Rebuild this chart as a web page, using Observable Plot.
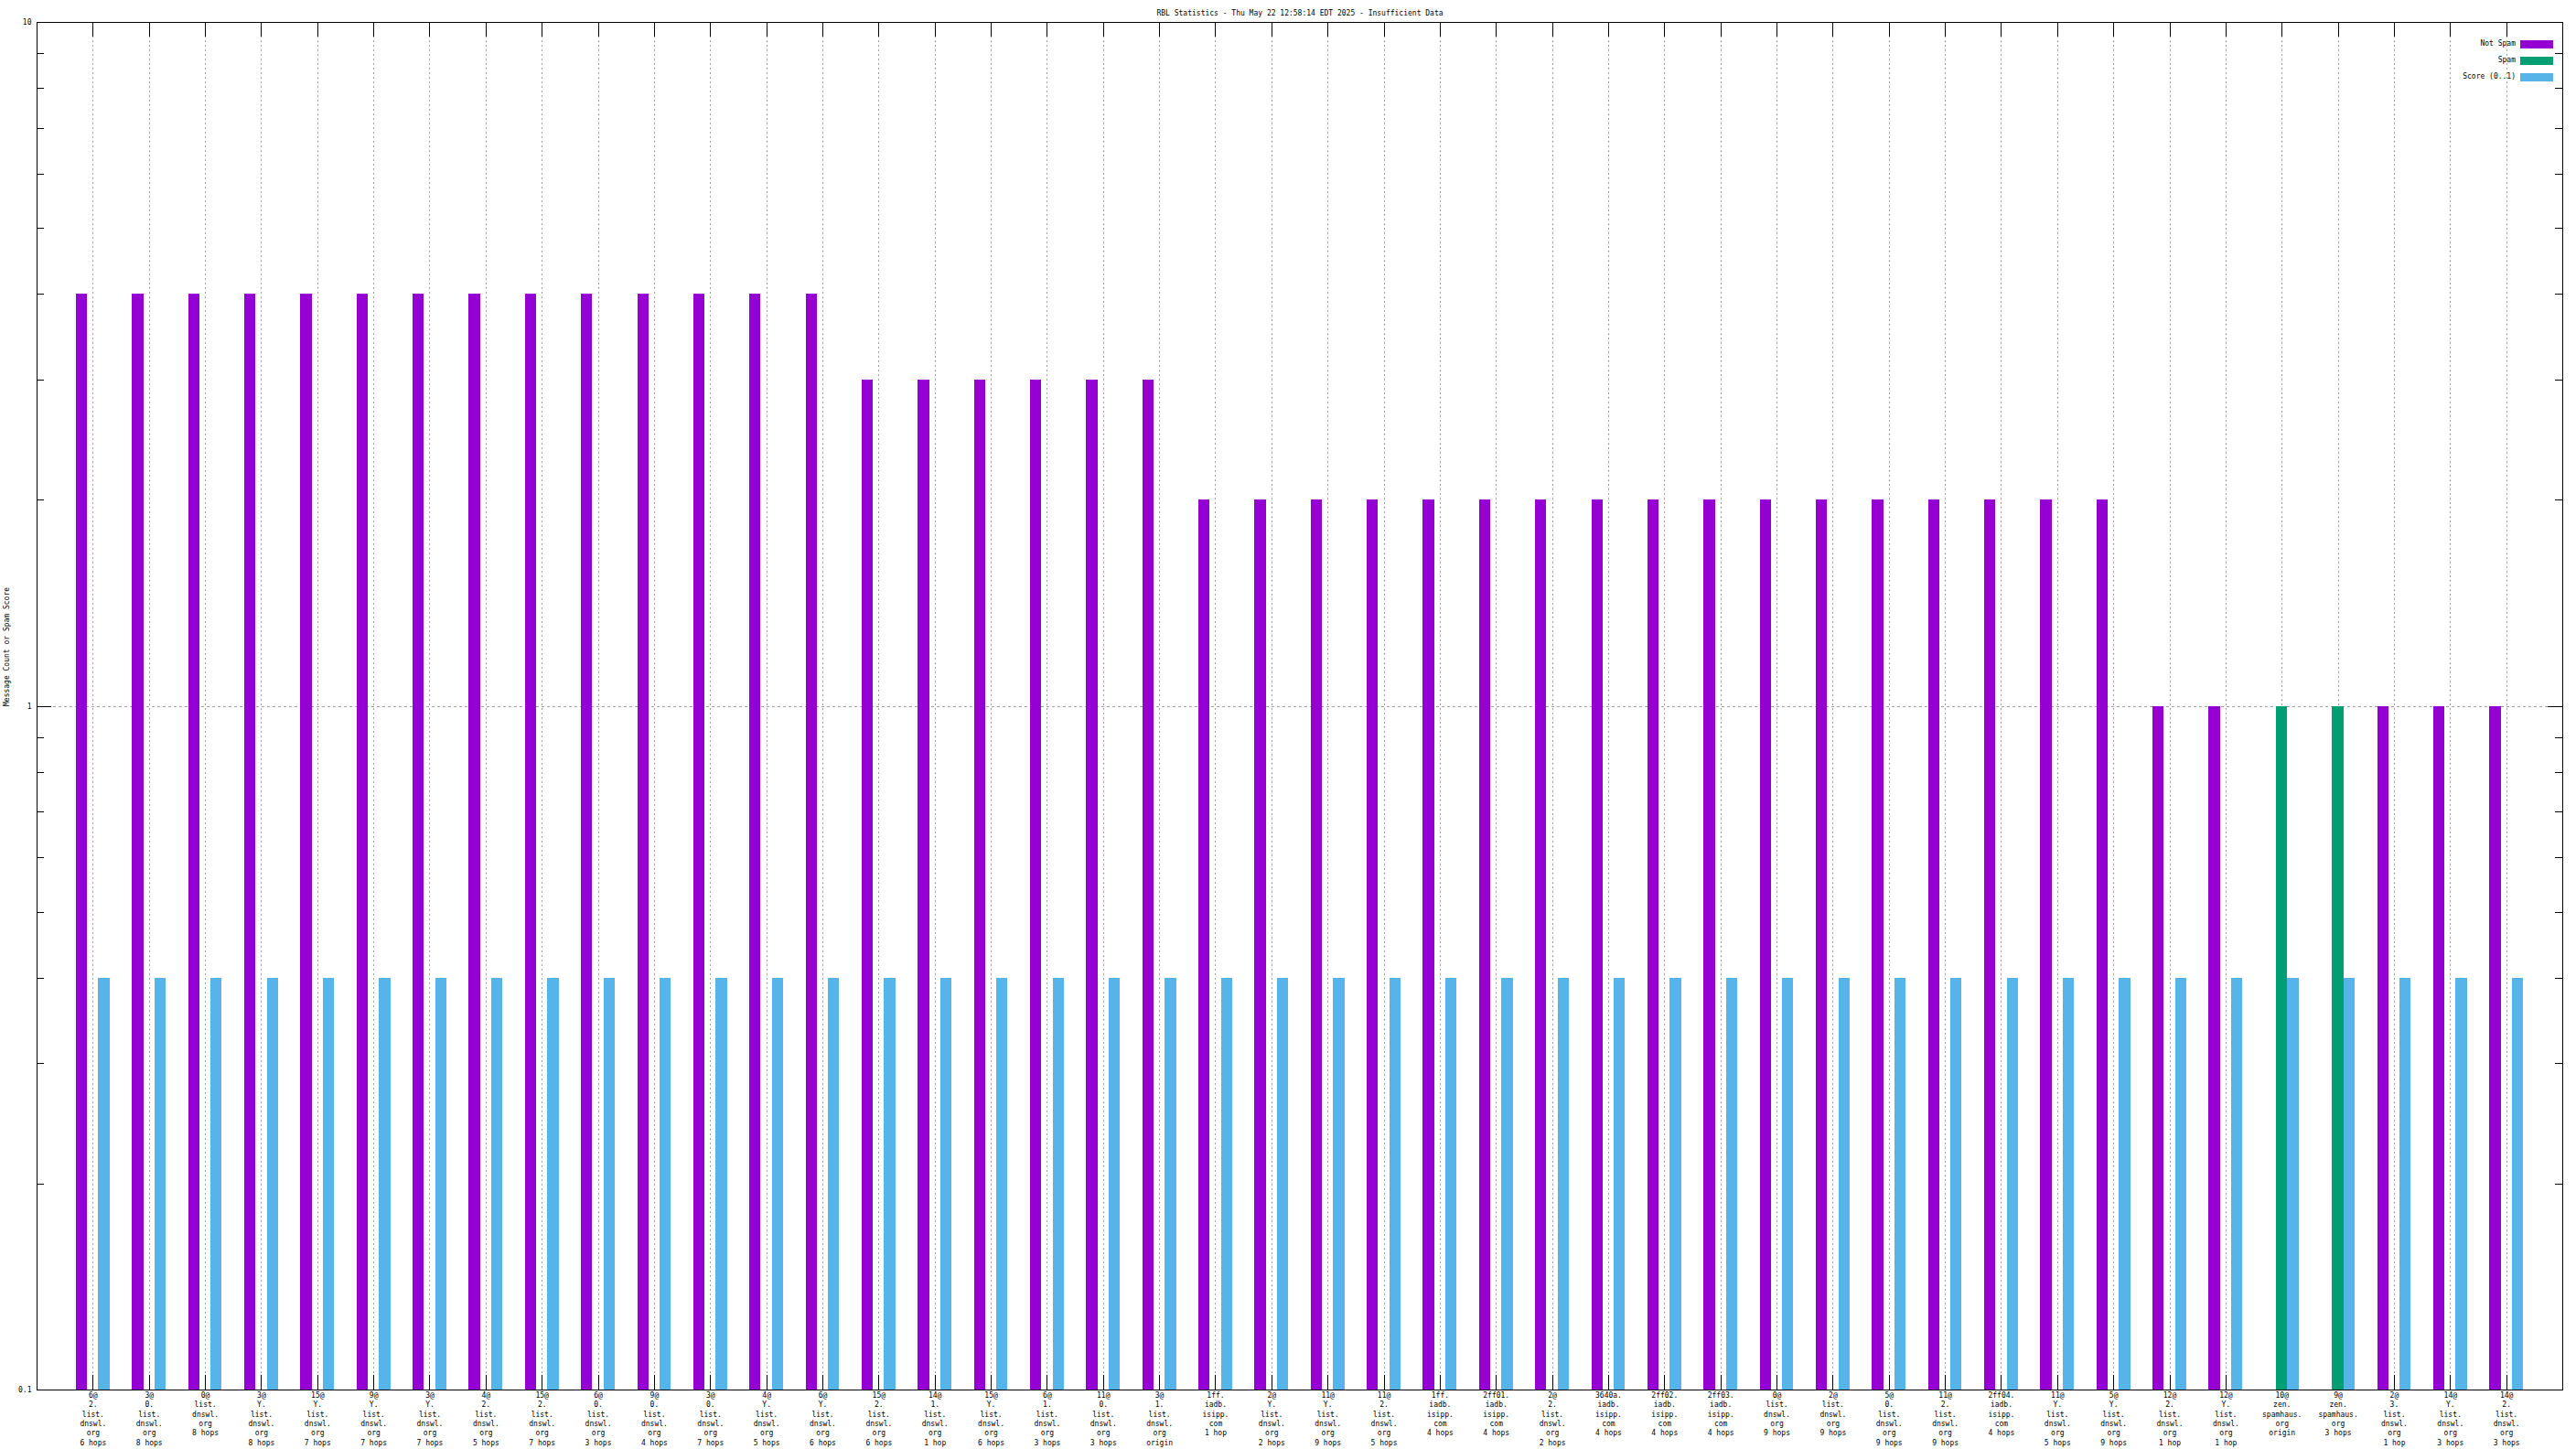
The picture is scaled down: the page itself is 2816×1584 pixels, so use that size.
<!DOCTYPE html>
<html>
<head>
<meta charset="utf-8">
<script src="https://cdn.jsdelivr.net/npm/d3@7"></script>
<script src="https://cdn.jsdelivr.net/npm/@observablehq/plot@0.6"></script>
<style>
  html, body { margin: 0; padding: 0; background: #fff; }
  #wrap { position: relative; width: 2816px; height: 1584px; overflow: hidden; }
  .leg { position: absolute; font-family: 'DejaVu Sans Mono', monospace; font-size: 8px; color: #000; }
</style>
</head>
<body>
<div id="wrap"></div>
<script>
// ---- data ----
const title = "RBL Statistics - Thu May 22 12:58:14 EDT 2025 - Insufficient Data";
const yLabel = "Message Count or Spam Score";
const seriesNames = ["Not Spam", "Spam", "Score (0..1)"];
const seriesColors = ["#9400d3", "#009e73", "#56b4e9"];

const categories = [
  "6@\n2.\nlist.\ndnswl.\norg\n6 hops",
  "3@\n0.\nlist.\ndnswl.\norg\n8 hops",
  "0@\nlist.\ndnswl.\norg\n8 hops",
  "3@\nY.\nlist.\ndnswl.\norg\n8 hops",
  "15@\nY.\nlist.\ndnswl.\norg\n7 hops",
  "9@\nY.\nlist.\ndnswl.\norg\n7 hops",
  "3@\nY.\nlist.\ndnswl.\norg\n7 hops",
  "4@\n2.\nlist.\ndnswl.\norg\n5 hops",
  "15@\n2.\nlist.\ndnswl.\norg\n7 hops",
  "6@\n0.\nlist.\ndnswl.\norg\n3 hops",
  "9@\n0.\nlist.\ndnswl.\norg\n4 hops",
  "3@\n0.\nlist.\ndnswl.\norg\n7 hops",
  "4@\nY.\nlist.\ndnswl.\norg\n5 hops",
  "6@\nY.\nlist.\ndnswl.\norg\n6 hops",
  "15@\n2.\nlist.\ndnswl.\norg\n6 hops",
  "14@\n1.\nlist.\ndnswl.\norg\n1 hop",
  "15@\nY.\nlist.\ndnswl.\norg\n6 hops",
  "6@\n1.\nlist.\ndnswl.\norg\n3 hops",
  "11@\n0.\nlist.\ndnswl.\norg\n3 hops",
  "3@\n1.\nlist.\ndnswl.\norg\norigin",
  "1ff.\niadb.\nisipp.\ncom\n1 hop",
  "2@\nY.\nlist.\ndnswl.\norg\n2 hops",
  "11@\nY.\nlist.\ndnswl.\norg\n9 hops",
  "11@\n2.\nlist.\ndnswl.\norg\n5 hops",
  "1ff.\niadb.\nisipp.\ncom\n4 hops",
  "2ff01.\niadb.\nisipp.\ncom\n4 hops",
  "2@\n2.\nlist.\ndnswl.\norg\n2 hops",
  "3640a.\niadb.\nisipp.\ncom\n4 hops",
  "2ff02.\niadb.\nisipp.\ncom\n4 hops",
  "2ff03.\niadb.\nisipp.\ncom\n4 hops",
  "0@\nlist.\ndnswl.\norg\n9 hops",
  "2@\nlist.\ndnswl.\norg\n9 hops",
  "5@\n0.\nlist.\ndnswl.\norg\n9 hops",
  "11@\n2.\nlist.\ndnswl.\norg\n9 hops",
  "2ff04.\niadb.\nisipp.\ncom\n4 hops",
  "11@\nY.\nlist.\ndnswl.\norg\n5 hops",
  "5@\nY.\nlist.\ndnswl.\norg\n9 hops",
  "12@\n2.\nlist.\ndnswl.\norg\n1 hop",
  "12@\nY.\nlist.\ndnswl.\norg\n1 hop",
  "10@\nzen.\nspamhaus.\norg\norigin",
  "9@\nzen.\nspamhaus.\norg\n3 hops",
  "2@\n3.\nlist.\ndnswl.\norg\n1 hop",
  "14@\nY.\nlist.\ndnswl.\norg\n3 hops",
  "14@\n2.\nlist.\ndnswl.\norg\n3 hops"
];

const notSpam = [4, 4, 4, 4, 4, 4, 4, 4, 4, 4, 4, 4, 4, 4,
                 3, 3, 3, 3, 3, 3,
                 2, 2, 2, 2, 2, 2, 2, 2, 2, 2, 2, 2, 2, 2, 2, 2, 2,
                 1, 1, 0, 0, 1, 1, 1];
const spam    = [0, 0, 0, 0, 0, 0, 0, 0, 0, 0, 0, 0, 0, 0,
                 0, 0, 0, 0, 0, 0,
                 0, 0, 0, 0, 0, 0, 0, 0, 0, 0, 0, 0, 0, 0, 0, 0, 0,
                 0, 0, 1, 1, 0, 0, 0];
const score   = [0.4, 0.4, 0.4, 0.4, 0.4, 0.4, 0.4, 0.4, 0.4, 0.4, 0.4, 0.4, 0.4, 0.4,
                 0.4, 0.4, 0.4, 0.4, 0.4, 0.4,
                 0.4, 0.4, 0.4, 0.4, 0.4, 0.4, 0.4, 0.4, 0.4, 0.4, 0.4, 0.4, 0.4, 0.4, 0.4, 0.4, 0.4,
                 0.4, 0.4, 0.4, 0.4, 0.4, 0.4, 0.4];

const yMajorTicks = [0.1, 1, 10];
const yMinorTicks = [0.2, 0.3, 0.4, 0.5, 0.6, 0.7, 0.8, 0.9, 2, 3, 4, 5, 6, 7, 8, 9];

// ---- layout ----
const W = 2816, H = 1584;
const mL = 40, mR = 15, mT = 24, mB = 65;
const plotW = W - mL - mR, plotH = H - mT - mB;
const majorLen = 16, minorLen = 8;
const font = "'DejaVu Sans Mono', monospace";

const rows = categories.map((c, i) => ({i, label: c, notSpam: notSpam[i], spam: spam[i], score: score[i]}));
const idx = rows.map(d => d.i);
const barW = 0.2; // gnuplot clustered histogram: 3 bars + gap of 2 per slot

const crisp = {shapeRendering: "crispEdges"};

const chart = Plot.plot({
  width: W, height: H,
  marginLeft: mL, marginRight: mR, marginTop: mT, marginBottom: mB,
  style: {fontFamily: font, fontSize: "8px", background: "white", color: "black", overflow: "visible"},
  x: {type: "linear", domain: [-1, categories.length], axis: null},
  y: {type: "log", domain: [0.1, 10], axis: null},
  marks: [
    // grid
    Plot.gridX(idx, {x: d => d, stroke: "#a0a0a0", strokeOpacity: 1, strokeDasharray: "2,3", ...crisp}),
    Plot.gridY([1], {y: d => d, stroke: "#a0a0a0", strokeOpacity: 1, strokeDasharray: "3,3", ...crisp}),
    // x ticks (bottom and mirrored top), inward
    Plot.tickX(idx, {x: d => d, insetTop: plotH - majorLen, stroke: "black", ...crisp}),
    Plot.tickX(idx, {x: d => d, insetBottom: plotH - majorLen, stroke: "black", ...crisp}),
    // y ticks (left and mirrored right), inward
    Plot.tickY(yMajorTicks, {y: d => d, insetRight: plotW - majorLen, stroke: "black", ...crisp}),
    Plot.tickY(yMajorTicks, {y: d => d, insetLeft: plotW - majorLen, stroke: "black", ...crisp}),
    Plot.tickY(yMinorTicks, {y: d => d, insetRight: plotW - minorLen, stroke: "black", ...crisp}),
    Plot.tickY(yMinorTicks, {y: d => d, insetLeft: plotW - minorLen, stroke: "black", ...crisp}),
    // bars
    Plot.rect(rows.filter(d => d.notSpam > 0), {
      x1: d => d.i - 1.5 * barW, x2: d => d.i - 0.5 * barW,
      y1: () => 0.1, y2: d => d.notSpam, fill: seriesColors[0], ...crisp}),
    Plot.rect(rows.filter(d => d.spam > 0), {
      x1: d => d.i - 0.5 * barW, x2: d => d.i + 0.5 * barW,
      y1: () => 0.1, y2: d => d.spam, fill: seriesColors[1], ...crisp}),
    Plot.rect(rows.filter(d => d.score > 0), {
      x1: d => d.i + 0.5 * barW, x2: d => d.i + 1.5 * barW,
      y1: () => 0.1, y2: d => d.score, fill: seriesColors[2], ...crisp}),
    // frame
    Plot.frame({stroke: "black", ...crisp}),
    // y tick labels
    Plot.text(yMajorTicks, {y: d => d, text: d => String(d), frameAnchor: "left", textAnchor: "end", dx: -6, fill: "black"}),
    // x tick labels
    Plot.text(idx, {x: d => d, text: d => categories[d], frameAnchor: "bottom", lineAnchor: "top", dy: 1, lineHeight: 1.3, fill: "black"}),
    // y axis label
    Plot.text([yLabel], {text: d => d, frameAnchor: "left", rotate: -90, dx: -33, fill: "black"}),
    // title
    Plot.text([title], {text: d => d, frameAnchor: "top", dy: -13, fill: "black"})
  ]
});

const wrap = document.getElementById("wrap");
wrap.appendChild(chart);

// legend (top-right, inside the plot frame)
seriesNames.forEach((name, k) => {
  const cy = 48 + k * 18;
  const t = document.createElement("div");
  t.className = "leg";
  t.style.right = (W - 2750) + "px";
  t.style.top = (cy - 5) + "px";
  t.innerHTML = `<span style="white-space:pre;line-height:10px;display:block">${name}</span>`;
  wrap.appendChild(t);
  const s = document.createElement("div");
  s.className = "leg";
  s.style.left = "2755px";
  s.style.top = (cy - 4) + "px";
  s.style.width = "36px";
  s.style.height = "9px";
  s.style.background = seriesColors[k];
  wrap.appendChild(s);
});
</script>
</body>
</html>
